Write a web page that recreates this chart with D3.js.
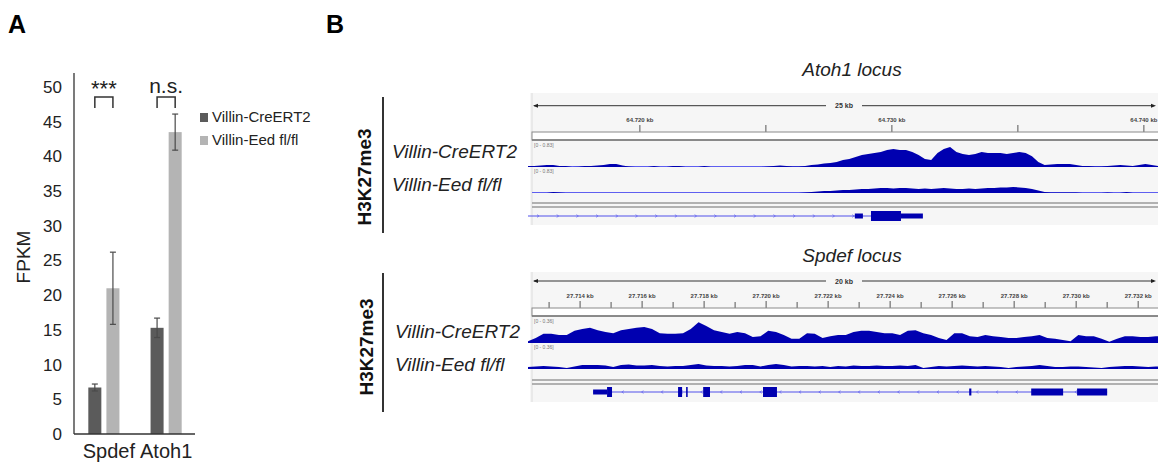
<!DOCTYPE html>
<html><head><meta charset="utf-8">
<script src="https://cdn.jsdelivr.net/npm/d3@7"></script>
<style>
html,body{margin:0;padding:0;background:#fff;}
svg{display:block;font-family:"Liberation Sans",Arial,sans-serif;}
</style></head><body>
<svg id="c" width="1158" height="466"></svg>
<script>
// ---------------- Panel A data ----------------
const genes = ["Spdef", "Atoh1"];
const seriesNames = ["Villin-CreERT2", "Villin-Eed fl/fl"];
const creFPKM = [6.7, 15.3];
const creErr = [0.5, 1.4];
const eedFPKM = [21.0, 43.5];
const eedErr = [5.2, 2.6];
const yTicks = [0, 5, 10, 15, 20, 25, 30, 35, 40, 45, 50];
const sigLabels = ["***", "n.s."];
const seriesColors = ["#5b5b5b", "#b4b4b4"];

// ---------------- Panel B data ----------------
// Atoh1 locus (kb), coverage sampled every 0.25 kb
const atohStart = 64715.56, atohStep = 0.25;
const atohDomain = [64715.56, 64740.56];
const atohRange = 0.83;
const atohCre = [0.04,0.04,0.06,0.08,0.08,0.04,0.04,0,0.01,0.04,
 0.04,0.06,0.08,0.11,0.11,0.06,0.02,0,0,0,
 0.04,0,0,0.04,0.04,0,0,0,0.04,0,
 0,0,0,0,0,0,0,0,0.02,0.04,
 0.06,0.04,0.02,0.02,0.04,0.08,0.09,0.13,0.15,0.19,
 0.26,0.30,0.38,0.45,0.49,0.53,0.57,0.64,0.68,0.64,
 0.64,0.57,0.45,0.30,0.26,0.53,0.68,0.75,0.57,0.49,
 0.45,0.49,0.57,0.53,0.53,0.53,0.49,0.53,0.57,0.53,
 0.41,0.19,0.08,0.09,0.11,0.11,0.11,0.08,0.04,0.04,
 0.02,0.02,0.04,0.06,0.08,0.06,0.04,0.08,0.11,0.08,
 0.04];
const atohEed = [0,0,0,0,0.04,0.02,0,0,0,0,
 0,0,0,0,0,0,0,0,0,0,
 0,0,0,0,0,0,0,0,0,0,
 0,0,0,0,0,0,0,0,0,0,
 0,0,0,0,0.02,0.04,0.06,0.08,0.08,0.09,
 0.11,0.11,0.13,0.15,0.15,0.17,0.19,0.19,0.17,0.19,
 0.19,0.17,0.15,0.17,0.15,0.17,0.19,0.17,0.15,0.15,
 0.17,0.15,0.17,0.19,0.19,0.21,0.21,0.23,0.21,0.19,
 0.15,0.09,0.04,0.02,0.02,0.02,0.02,0.02,0,0,
 0,0,0.02,0,0,0.04,0,0,0,0,
 0];
const atohMajorTicks = [64720, 64725, 64730, 64735, 64740];
const atohTickLabels = ["64.720 kb", "", "64.730 kb", "", "64.740 kb"];
const atohMinorTicks = [];
const atohSpanLabel = "25 kb";
const atohGeneLine = [64715.56, 64729.17];
const atohExons = [[64728.53, 64728.85, "utr"], [64729.17, 64730.36, "cds"], [64730.36, 64731.23, "utr"]];
const atohStrand = 1;

// Spdef locus (kb), coverage sampled every 0.25 kb
const spdStart = 27712.32, spdStep = 0.25;
const spdDomain = [27712.32, 27732.64];
const spdRange = 0.36;
const spdCre = [0.03,0.08,0.15,0.15,0.13,0.13,0.20,0.23,0.25,0.21,
 0.18,0.16,0.21,0.23,0.25,0.26,0.23,0.16,0.15,0.15,
 0.16,0.23,0.34,0.28,0.21,0.18,0.15,0.18,0.16,0.10,
 0.11,0.20,0.18,0.13,0.07,0.07,0.16,0.15,0.08,0.11,
 0.13,0.13,0.18,0.20,0.20,0.18,0.16,0.16,0.13,0.20,
 0.21,0.16,0.13,0.08,0.05,0.16,0.16,0.11,0.10,0.13,
 0.11,0.10,0.08,0.08,0.10,0.11,0.13,0.08,0.07,0.05,
 0.03,0.13,0.11,0.11,0.07,0.02,0.07,0.11,0.11,0.10,
 0.10,0.11,0.11];
const spdEed = [0.033,0.041,0.049,0.041,0.033,0.016,0.041,0.065,0.065,0.065,
 0.057,0.033,0.065,0.074,0.057,0.057,0.065,0.049,0.041,0.049,
 0.049,0.065,0.082,0.057,0.049,0.049,0.041,0.049,0.065,0.065,
 0.041,0.065,0.082,0.065,0.041,0.049,0.049,0.041,0.049,0.033,
 0.049,0.041,0.057,0.049,0.049,0.057,0.049,0.049,0.057,0.049,
 0.065,0.016,0.033,0.049,0.041,0.049,0.057,0.049,0.041,0.049,
 0.041,0.033,0.016,0.033,0.041,0.049,0.065,0.049,0.033,0.033,
 0.041,0.041,0.033,0.025,0.016,0.033,0.041,0.049,0.049,0.041,
 0.033,0.041,0.041];
const spdMajorTicks = [27714, 27716, 27718, 27720, 27722, 27724, 27726, 27728, 27730, 27732];
const spdTickLabels = ["27.714 kb","27.716 kb","27.718 kb","27.720 kb","27.722 kb","27.724 kb","27.726 kb","27.728 kb","27.730 kb","27.732 kb"];
const spdMinorTicks = [27713, 27715, 27717, 27719, 27721, 27723, 27725, 27727, 27729, 27731];
const spdSpanLabel = "20 kb";
const spdGeneLine = [27714.42, 27731.0];
const spdExons = [[27714.42, 27714.87, "utr"], [27714.87, 27715.03, "cds"], [27717.16, 27717.29, "cds"],
  [27717.42, 27717.47, "cds"], [27717.97, 27718.19, "cds"], [27719.90, 27720.35, "cds"],
  [27726.55, 27726.62, "mid"], [27728.55, 27729.58, "mid"], [27730.03, 27731.0, "mid"]];
const spdStrand = -1;

const sampleNames = ["Villin-CreERT2", "Villin-Eed fl/fl"];

// ---------------- drawing ----------------
const svg = d3.select("#c");
const FONT = '"Liberation Sans",Arial,sans-serif';

svg.append("text").attr("x", 8).attr("y", 33).attr("font-size", 25).attr("font-weight", "bold").text("A");
svg.append("text").attr("x", 326).attr("y", 33).attr("font-size", 25).attr("font-weight", "bold").text("B");

// ---- Panel A bar chart ----
const x0 = d3.scaleBand().domain(genes).range([74, 196]).paddingInner(0.5).paddingOuter(0.23);
const x1 = d3.scaleBand().domain(seriesNames).range([0, x0.bandwidth()]).paddingInner(0.28);
const y = d3.scaleLinear().domain([0, 50]).range([434, 87]);

const gA = svg.append("g");
const rows = genes.map((g, i) => ({gene: g, vals: [
  {s: seriesNames[0], v: creFPKM[i], e: creErr[i]},
  {s: seriesNames[1], v: eedFPKM[i], e: eedErr[i]}]}));

const grp = gA.selectAll("g.grp").data(rows).join("g").attr("class", "grp")
  .attr("transform", d => `translate(${x0(d.gene)},0)`);
grp.selectAll("rect").data(d => d.vals).join("rect")
  .attr("x", d => x1(d.s)).attr("width", x1.bandwidth())
  .attr("y", d => y(d.v)).attr("height", d => y(0) - y(d.v))
  .attr("fill", (d, i) => seriesColors[i]);
const eb = grp.selectAll("g.eb").data(d => d.vals).join("g").attr("class", "eb")
  .attr("stroke", "#4a4a4a").attr("stroke-width", 1.2);
eb.append("line").attr("x1", d => x1(d.s) + x1.bandwidth() / 2).attr("x2", d => x1(d.s) + x1.bandwidth() / 2)
  .attr("y1", d => y(d.v - d.e)).attr("y2", d => y(d.v + d.e));
eb.append("line").attr("x1", d => x1(d.s) + x1.bandwidth() / 2 - 3).attr("x2", d => x1(d.s) + x1.bandwidth() / 2 + 3)
  .attr("y1", d => y(d.v + d.e)).attr("y2", d => y(d.v + d.e));
eb.append("line").attr("x1", d => x1(d.s) + x1.bandwidth() / 2 - 3).attr("x2", d => x1(d.s) + x1.bandwidth() / 2 + 3)
  .attr("y1", d => y(d.v - d.e)).attr("y2", d => y(d.v - d.e));

const yAxis = gA.append("g").attr("transform", "translate(74,0)")
  .call(d3.axisLeft(y).tickValues(yTicks).tickSize(0).tickPadding(12));
yAxis.select(".domain").attr("stroke", "#333").attr("stroke-width", 1.3).attr("d", "M0,73V434");
yAxis.selectAll("text").attr("font-size", 17).attr("font-family", FONT).attr("fill", "#222");

const xAxis = gA.append("g").attr("transform", "translate(0,434)")
  .call(d3.axisBottom(x0).tickSize(0).tickPadding(10));
xAxis.select(".domain").attr("stroke", "#333").attr("stroke-width", 1.3).attr("d", "M74,0H195");
xAxis.selectAll("text").attr("font-size", 20).attr("font-family", FONT).attr("fill", "#222");
xAxis.selectAll(".tick").filter((d, i) => i === 0).select("text").attr("dx", 5);

gA.append("text").attr("transform", "translate(30,257) rotate(-90)").attr("text-anchor", "middle")
  .attr("font-size", 19).attr("fill", "#222").text("FPKM");

genes.forEach((g, i) => {
  const xa = x0(g) + x1(seriesNames[0]) + x1.bandwidth() / 2;
  const xb = x0(g) + x1(seriesNames[1]) + x1.bandwidth() / 2;
  gA.append("path").attr("d", `M${xa},108V97H${xb}V108`).attr("fill", "none")
    .attr("stroke", "#333").attr("stroke-width", 1.5);
  gA.append("text").attr("x", (xa + xb) / 2).attr("y", i === 0 ? 96 : 93).attr("text-anchor", "middle")
    .attr("font-size", i === 0 ? 22 : 21).attr("fill", "#222").text(sigLabels[i]);
});

seriesNames.forEach((s, i) => {
  gA.append("rect").attr("x", 200).attr("y", 113 + i * 23).attr("width", 8).attr("height", 9).attr("fill", seriesColors[i]);
  gA.append("text").attr("x", 212).attr("y", 122 + i * 23).attr("font-size", 15).attr("fill", "#222").text(s);
});

// ---- Panel B ----
function drawLocus(cfg) {
  const g = svg.append("g");
  const X = d3.scaleLinear().domain(cfg.domain).range([528, 1158]);
  const T = cfg.top;
  svg.append("text").attr("x", 852).attr("y", cfg.titleY).attr("text-anchor", "middle")
    .attr("font-size", 19).attr("font-style", "italic").attr("fill", "#222").text(cfg.title);
  svg.append("text").attr("transform", `translate(${cfg.markX},${cfg.markY}) rotate(-90)`).attr("text-anchor", "middle")
    .attr("font-size", 19).attr("font-weight", "bold").attr("fill", "#111").text("H3K27me3");
  svg.append("line").attr("x1", 383).attr("x2", 383).attr("y1", cfg.barY[0]).attr("y2", cfg.barY[1])
    .attr("stroke", "#333").attr("stroke-width", 2);
  sampleNames.forEach((s, i) => {
    svg.append("text").attr("x", cfg.nameX).attr("y", cfg.nameY[i]).attr("font-size", 19)
      .attr("font-style", "italic").attr("fill", "#222").text(s);
  });
  g.append("rect").attr("x", 530).attr("y", T).attr("width", 628).attr("height", cfg.h).attr("fill", "#f6f6f6");
  g.append("line").attr("x1", 532).attr("x2", 532).attr("y1", T).attr("y2", T + cfg.h).attr("stroke", "#dcdcdc");
  const ay = T + cfg.arrowDy;
  g.append("line").attr("x1", 534).attr("x2", 826).attr("y1", ay).attr("y2", ay).attr("stroke", "#333").attr("stroke-width", 1);
  g.append("line").attr("x1", 862).attr("x2", 1154).attr("y1", ay).attr("y2", ay).attr("stroke", "#333").attr("stroke-width", 1);
  g.append("path").attr("d", `M533,${ay}l5,-2v4z`).attr("fill", "#222");
  g.append("path").attr("d", `M1156,${ay}l-5,-2v4z`).attr("fill", "#222");
  g.append("text").attr("x", 844).attr("y", ay + 2.5).attr("text-anchor", "middle").attr("font-size", 7)
    .attr("font-weight", "bold").attr("fill", "#333").text(cfg.span);
  const rb = T + cfg.rulerDy;
  cfg.major.forEach((k, i) => {
    g.append("line").attr("x1", X(k)).attr("x2", X(k)).attr("y1", rb - 7).attr("y2", rb).attr("stroke", "#555").attr("stroke-width", 1);
    if (cfg.labels[i]) g.append("text").attr("x", X(k)).attr("y", rb - 10).attr("text-anchor", "middle")
      .attr("font-size", 6).attr("font-weight", "bold").attr("fill", "#444").text(cfg.labels[i]);
  });
  cfg.minor.forEach(k => {
    g.append("line").attr("x1", X(k)).attr("x2", X(k)).attr("y1", rb - 6).attr("y2", rb).attr("stroke", "#555").attr("stroke-width", 1);
  });
  g.append("rect").attr("x", 532).attr("y", rb).attr("width", 630).attr("height", 8).attr("fill", "#fff")
    .attr("stroke", "#8a8a8a").attr("stroke-width", 1);
  g.append("line").attr("x1", 532).attr("x2", 1158).attr("y1", rb + 8).attr("y2", rb + 8).attr("stroke", "#777").attr("stroke-width", 1.5);
  [cfg.cre, cfg.eed].forEach((vals, ti) => {
    const base = T + cfg.baseDy[ti];
    const Y = d3.scaleLinear().domain([0, cfg.range]).range([base, base - 22]);
    const pts = vals.map((v, i) => ({k: cfg.start + i * cfg.step, v}));
    g.append("text").attr("x", 534).attr("y", base - 20).attr("font-size", 5).attr("fill", "#777")
      .text(`[0 - ${cfg.range.toFixed(2)}]`);
    g.append("line").attr("x1", 532).attr("x2", 1158).attr("y1", base - 0.5).attr("y2", base - 0.5)
      .attr("stroke", "#5f5ff0").attr("stroke-width", 1);
    g.append("path").datum(pts)
      .attr("d", d3.area().x(d => X(d.k)).y0(base).y1(d => Y(d.v)).curve(d3.curveLinear))
      .attr("fill", "#0000b0");
  });
  const sy = T + cfg.sepDy;
  [0, 4].forEach(o => g.append("line").attr("x1", 532).attr("x2", 1158).attr("y1", sy + o).attr("y2", sy + o)
    .attr("stroke", "#9a9a9a").attr("stroke-width", 1.3));
  const gy = T + cfg.geneDy;
  g.append("line").attr("x1", X(cfg.geneLine[0])).attr("x2", X(cfg.geneLine[1])).attr("y1", gy).attr("y2", gy)
    .attr("stroke", "#5050ea").attr("stroke-width", 1);
  const chev = d3.range(X(cfg.geneLine[0]) + 10, X(cfg.geneLine[1]) - 6, 19.7);
  chev.forEach(cx => {
    const s = cfg.strand;
    g.append("path").attr("d", `M${cx - 1 * s},${gy - 1.3}L${cx + 1 * s},${gy}L${cx - 1 * s},${gy + 1.3}`)
      .attr("fill", "none").attr("stroke", "#6a6af0").attr("stroke-width", 0.8);
  });
  const hmap = {cds: 10, mid: 7, utr: 5};
  cfg.exons.forEach(e => {
    const hh = hmap[e[2]];
    g.append("rect").attr("x", X(e[0])).attr("width", Math.max(1.2, X(e[1]) - X(e[0])))
      .attr("y", gy - hh / 2).attr("height", hh).attr("fill", "#0000b0");
  });
}

drawLocus({domain: atohDomain, top: 93, h: 132, title: "Atoh1 locus", titleY: 76,
  markX: 371, markY: 177, barY: [97, 233], nameX: 392, nameY: [158, 191],
  arrowDy: 12.7, span: atohSpanLabel, rulerDy: 39, major: atohMajorTicks, labels: atohTickLabels, minor: atohMinorTicks,
  cre: atohCre, eed: atohEed, start: atohStart, step: atohStep, range: atohRange, baseDy: [74, 100],
  sepDy: 110, geneDy: 123, geneLine: atohGeneLine, exons: atohExons, strand: atohStrand});

drawLocus({domain: spdDomain, top: 272, h: 130, title: "Spdef locus", titleY: 262,
  markX: 373, markY: 347, barY: [273, 412], nameX: 395, nameY: [338, 371],
  arrowDy: 9, span: spdSpanLabel, rulerDy: 36, major: spdMajorTicks, labels: spdTickLabels, minor: spdMinorTicks,
  cre: spdCre, eed: spdEed, start: spdStart, step: spdStep, range: spdRange, baseDy: [71, 97],
  sepDy: 108, geneDy: 120, geneLine: spdGeneLine, exons: spdExons, strand: spdStrand});
</script>
</body></html>
